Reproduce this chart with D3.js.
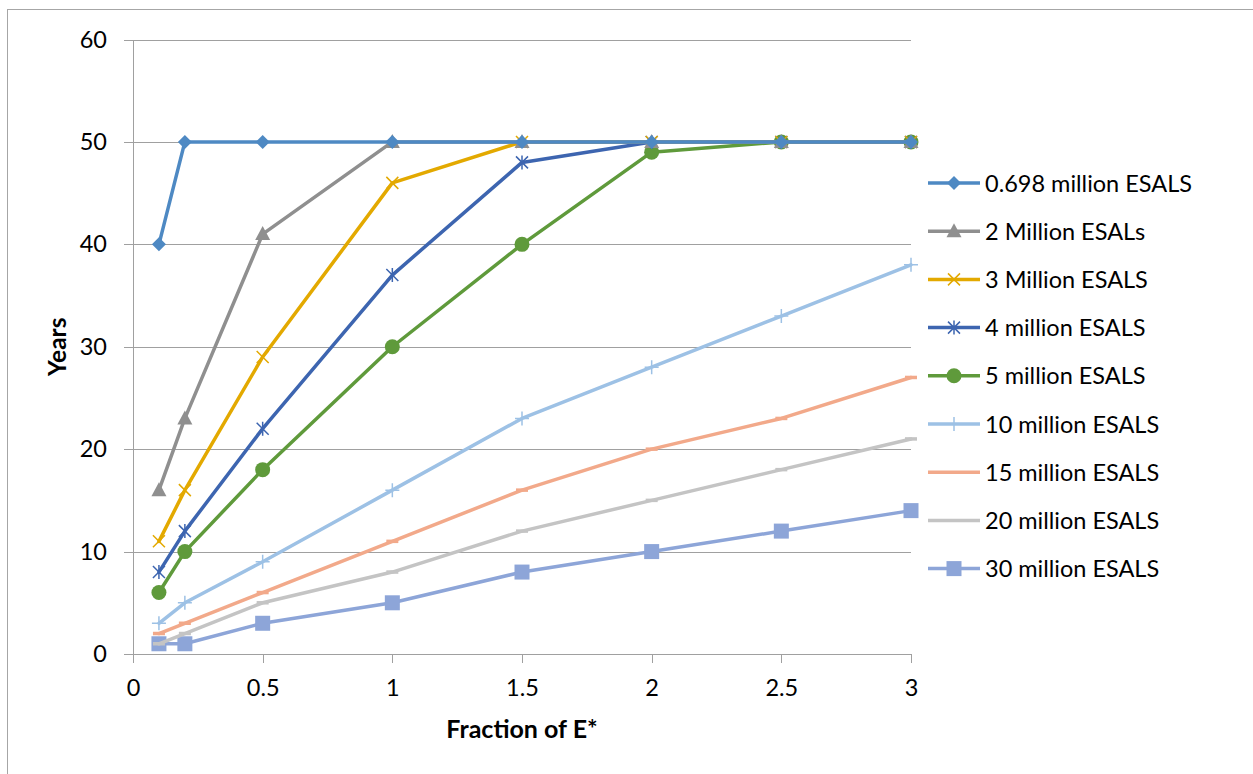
<!DOCTYPE html>
<html><head><meta charset="utf-8">
<script src="https://cdn.jsdelivr.net/npm/d3@7"></script>
<style>body{margin:0;background:#fff}svg{display:block}</style>
</head><body>
<svg id="c" width="1253" height="774"></svg>
<script>
const xValues = [0.1, 0.2, 0.5, 1, 1.5, 2, 2.5, 3];
const seriesNames = ["0.698 million ESALS","2 Million ESALs","3 Million ESALS","4 million ESALS","5 million ESALS","10 million ESALS","15 million ESALS","20 million ESALS","30 million ESALS"];
const s1 = [40, 50, 50, 50, 50, 50, 50, 50];
const s2 = [16, 23, 41, 50, 50, 50, 50, 50];
const s3 = [11, 16, 29, 46, 50, 50, 50, 50];
const s4 = [8, 12, 22, 37, 48, 50, 50, 50];
const s5 = [6, 10, 18, 30, 40, 49, 50, 50];
const s6 = [3, 5, 9, 16, 23, 28, 33, 38];
const s7 = [2, 3, 6, 11, 16, 20, 23, 27];
const s8 = [1, 2, 5, 8, 12, 15, 18, 21];
const s9 = [1, 1, 3, 5, 8, 10, 12, 14];
const xTicks = [0, 0.5, 1, 1.5, 2, 2.5, 3];
const yTicks = [0, 10, 20, 30, 40, 50, 60];

const seriesValues = [s1,s2,s3,s4,s5,s6,s7,s8,s9];
const colors = ["#4E89C3","#8F8F8F","#E3A900","#3D65B0","#5F9A3B","#9DC1E5","#F2A98A","#C4C4C4","#8DA5D8"];
const markers = ["diamond","triangle","x","star","circle","plus","dash","dash","square"];

const svg = d3.select("#c");
const font = "Lato, 'Open Sans', sans-serif";
const FS = 23.5;
const L = 133, R = 911, T = 39.5, B = 654;
const x = d3.scaleLinear().domain([0,3]).range([L,R]);
const y = d3.scaleLinear().domain([0,60]).range([B,T]);

// outer border
svg.append("rect").attr("x",7.5).attr("y",9.5).attr("width",1260).attr("height",780)
  .attr("fill","none").attr("stroke","#a6a6a6").attr("stroke-width",1);

// gridlines
const gy = svg.append("g").attr("transform",`translate(${L},0)`)
  .call(d3.axisLeft(y).tickValues(yTicks).tickSize(-(R-L)).tickSizeOuter(0).tickPadding(26));
gy.select(".domain").remove();
gy.selectAll(".tick line").attr("stroke","#a0a0a0").attr("x1",-9).attr("shape-rendering","crispEdges");
gy.selectAll(".tick text").attr("font-family",font).attr("font-size",FS).attr("fill","#000");

svg.append("line").attr("x1",L).attr("x2",L).attr("y1",T).attr("y2",B)
  .attr("stroke","#a0a0a0").attr("shape-rendering","crispEdges");

const gx = svg.append("g").attr("transform",`translate(0,${B})`)
  .call(d3.axisBottom(x).tickValues(xTicks).tickFormat(d3.format("")).tickSize(9).tickSizeOuter(0).tickPadding(16));
gx.select(".domain").attr("stroke","#a0a0a0").attr("shape-rendering","crispEdges");
gx.selectAll(".tick line").attr("stroke","#a0a0a0").attr("shape-rendering","crispEdges");
gx.selectAll(".tick text").attr("font-family",font).attr("font-size",FS).attr("fill","#000");

// axis titles
svg.append("text").attr("x",(L+R)/2).attr("y",738).attr("text-anchor","middle")
  .attr("font-family",font).attr("font-weight","bold").attr("font-size",25).text("Fraction of E*");
svg.append("text").attr("transform",`translate(66,${(T+B)/2}) rotate(-90)`).attr("text-anchor","middle")
  .attr("font-family",font).attr("font-weight","bold").attr("font-size",24.5).text("Years");

function drawMarker(g, type, cx, cy, color) {
  switch(type) {
    case "diamond":
      g.append("path").attr("d",`M${cx},${cy-7}L${cx+7},${cy}L${cx},${cy+7}L${cx-7},${cy}Z`).attr("fill",color);
      break;
    case "triangle":
      g.append("path").attr("d",`M${cx},${cy-8}L${cx+7.5},${cy+6}L${cx-7.5},${cy+6}Z`).attr("fill",color);
      break;
    case "x":
      g.append("path").attr("d",`M${cx-6},${cy-6}L${cx+6},${cy+6}M${cx+6},${cy-6}L${cx-6},${cy+6}`).attr("stroke",color).attr("stroke-width",1.5).attr("fill","none");
      break;
    case "star":
      g.append("path").attr("d",`M${cx-6},${cy-6}L${cx+6},${cy+6}M${cx+6},${cy-6}L${cx-6},${cy+6}M${cx},${cy-7}L${cx},${cy+7}`).attr("stroke",color).attr("stroke-width",1.5).attr("fill","none");
      break;
    case "circle":
      g.append("circle").attr("cx",cx).attr("cy",cy).attr("r",7.5).attr("fill",color);
      break;
    case "plus":
      g.append("path").attr("d",`M${cx-7},${cy}L${cx+7},${cy}M${cx},${cy-7}L${cx},${cy+7}`).attr("stroke",color).attr("stroke-width",1.5).attr("fill","none");
      break;
    case "dash":
      g.append("path").attr("d",`M${cx-6},${cy}L${cx+6},${cy}`).attr("stroke",color).attr("stroke-width",3.5).attr("fill","none");
      break;
    case "square":
      g.append("rect").attr("x",cx-7.5).attr("y",cy-7.5).attr("width",15).attr("height",15).attr("fill",color);
      break;
  }
}

const line = d3.line().x(d=>x(d[0])).y(d=>y(d[1]));
const plot = svg.append("g");
for (let i = seriesValues.length-1; i >= 0; i--) {
  const pts = xValues.map((xv,j)=>[xv, seriesValues[i][j]]);
  const g = plot.append("g");
  g.append("path").attr("d",line(pts)).attr("fill","none").attr("stroke",colors[i])
    .attr("stroke-width",3.5).attr("stroke-linejoin","round").attr("stroke-linecap","round");
  pts.forEach(p => drawMarker(g, markers[i], x(p[0]), y(p[1]), colors[i]));
}

// legend
const leg = svg.append("g");
seriesNames.forEach((name,i)=>{
  const cy = 183 + i*48.2;
  leg.append("line").attr("x1",928).attr("x2",980).attr("y1",cy).attr("y2",cy)
    .attr("stroke",colors[i]).attr("stroke-width",3.5);
  if (markers[i] !== "dash") drawMarker(leg, markers[i], 954, cy, colors[i]);
  leg.append("text").attr("x",985).attr("y",cy+8.5).attr("font-family",font).attr("font-size",FS)
    .attr("fill","#000").text(name);
});
</script>
</body></html>
